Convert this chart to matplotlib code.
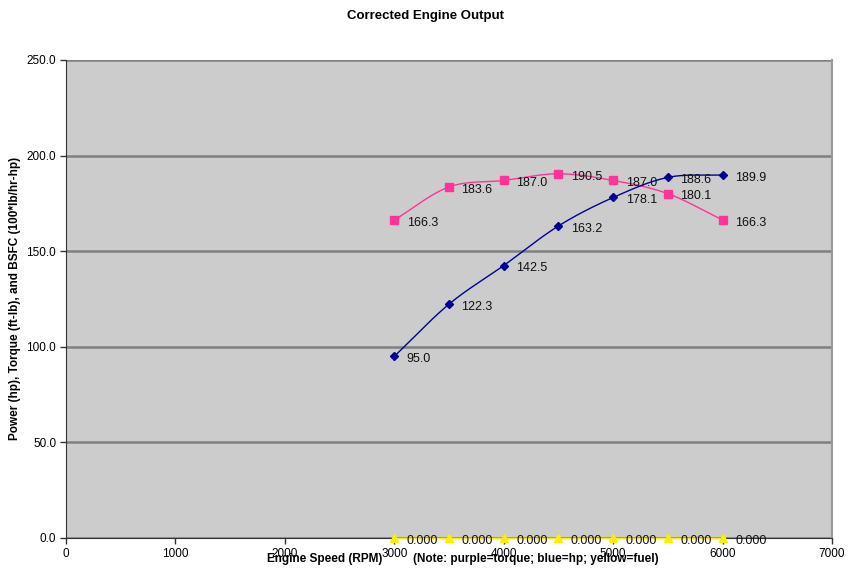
import matplotlib
matplotlib.use("Agg")
import matplotlib.pyplot as plt
import numpy as np

plt.rcParams["font.family"] = ["Liberation Sans", "DejaVu Sans"]

rpm = [3000, 3500, 4000, 4500, 5000, 5500, 6000]
torque = [166.3, 183.6, 187.0, 190.5, 187.0, 180.1, 166.3]
hp = [95.0, 122.3, 142.5, 163.2, 178.1, 188.6, 189.9]
fuel = [0.0, 0.0, 0.0, 0.0, 0.0, 0.0, 0.0]

x_ticks = [0, 1000, 2000, 3000, 4000, 5000, 6000, 7000]
y_ticks = [0, 50, 100, 150, 200, 250]


def smooth(x, y, n=30):
    """Catmull-Rom curve through the points, like Excel's smoothed line."""
    x = np.asarray(x, float)
    y = np.asarray(y, float)
    px = np.concatenate([[2 * x[0] - x[1]], x, [2 * x[-1] - x[-2]]])
    py = np.concatenate([[2 * y[0] - y[1]], y, [2 * y[-1] - y[-2]]])
    xs, ys = [], []
    t = np.linspace(0, 1, n)
    for i in range(1, len(px) - 2):
        for p, out in ((px, xs), (py, ys)):
            p0, p1, p2, p3 = p[i - 1], p[i], p[i + 1], p[i + 2]
            out.extend(0.5 * (2 * p1 + (-p0 + p2) * t
                              + (2 * p0 - 5 * p1 + 4 * p2 - p3) * t ** 2
                              + (-p0 + 3 * p1 - 3 * p2 + p3) * t ** 3))
    return xs, ys


fig = plt.figure(figsize=(8.51, 5.74), dpi=100)
ax = fig.add_axes([66 / 851, 36 / 574, 766 / 851, 478 / 574])
ax.set_facecolor("#cccccc")

ax.set_xlim(0, 7000)
ax.set_ylim(0, 250)
ax.set_xticks(x_ticks)
ax.set_xticklabels([str(v) for v in x_ticks], fontsize=8.5)
ax.set_yticks(y_ticks)
ax.set_yticklabels(["%.1f" % v for v in y_ticks], fontsize=8.5)
ax.tick_params(direction="out", length=4, width=1, color="#333333", pad=3)
ax.yaxis.grid(True, color="#808080", linewidth=1.8)
ax.set_axisbelow(True)
ax.spines["top"].set_visible(False)
ax.spines["right"].set_color("#999999")
ax.spines["right"].set_linewidth(1.5)
ax.spines["left"].set_color("#333333")
ax.spines["bottom"].set_color("#333333")

series = [
    (torque, "#ff3399", "s", 6),
    (hp, "#000099", "D", 4),
    (fuel, "#ffee00", "^", 6),
]
for vals, color, marker, ms in series:
    sx, sy = smooth(rpm, vals)
    ax.plot(sx, sy, color=color, linewidth=1, zorder=3, clip_on=False)
    ax.plot(rpm, vals, linestyle="none", marker=marker, markersize=ms,
            color=color, zorder=4, clip_on=False)
    fmt = "%.3f" if max(vals) == 0 else "%.1f"
    for xv, yv in zip(rpm, vals):
        ax.annotate(fmt % yv, (xv, yv), xytext=(9, -2), textcoords="offset points",
                    fontsize=9, ha="left", va="center", color="#111111", zorder=5)

fig.text(0.5, 1 - 16 / 574, "Corrected Engine Output", ha="center", va="center",
         fontsize=9.5, fontweight="bold")
fig.text(267 / 851, 1 - 559 / 574, "Engine Speed (RPM)", ha="left", va="center",
         fontsize=8.5, fontweight="bold")
fig.text(413 / 851, 1 - 559 / 574, "(Note: purple=torque; blue=hp; yellow=fuel)",
         ha="left", va="center", fontsize=8.5, fontweight="bold")
fig.text(15 / 851, 1 - 298 / 574, "Power (hp), Torque (ft-lb), and BSFC (100*lb/hr-hp)",
         ha="center", va="center", rotation=90, fontsize=8.5, fontweight="bold")

fig.savefig("out.png", dpi=100)
